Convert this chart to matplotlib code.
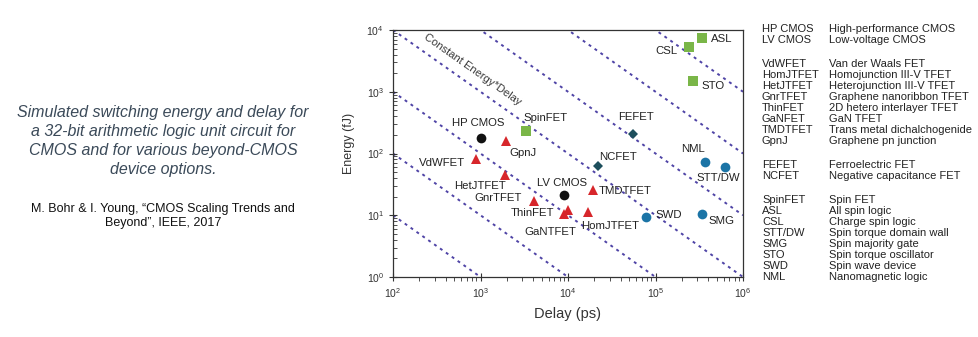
import numpy as np
import matplotlib
matplotlib.use("Agg")
import matplotlib.pyplot as plt
from matplotlib.ticker import LogLocator, NullFormatter

plt.rcParams['font.family'] = ['Liberation Sans', 'DejaVu Sans']

# devices: name, delay (ps), energy (fJ), family
names = ["HP CMOS", "LV CMOS",
         "GpnJ", "VdWFET", "HetJTFET", "GnrTFET", "GaNTFET", "ThinFET", "HomJTFET", "TMDTFET",
         "SpinFET", "CSL", "ASL", "STO",
         "FEFET", "NCFET",
         "NML", "STT/DW", "SWD", "SMG"]
delay = [1000, 8900,
         1970, 880, 1890, 4060, 8900, 10100, 16900, 19300,
         3280, 241000, 343000, 268000,
         55300, 21800,
         368000, 628000, 78500, 343000]
energy = [180, 21,
          160, 80, 45, 17, 10.3, 12, 11.3, 26,
          230, 5300, 7500, 1480,
          210, 62,
          72, 61, 9.2, 10.4]
family = ["cmos"] * 2 + ["tfet"] * 8 + ["spin"] * 4 + ["ferro"] * 2 + ["wave"] * 4

# constant energy*delay lines (fJ*ps)
ed_products = [1e3, 1e4, 1e5, 1e6, 1e7, 1e8, 1e9]

# glossary on the right
gloss_groups = [
    [("HP CMOS", "High-performance CMOS"), ("LV CMOS", "Low-voltage CMOS")],
    [("VdWFET", "Van der Waals FET"), ("HomJTFET", "Homojunction III-V TFET"),
     ("HetJTFET", "Heterojunction III-V TFET"), ("GnrTFET", "Graphene nanoribbon TFET"),
     ("ThinFET", "2D hetero interlayer TFET"), ("GaNFET", "GaN TFET"),
     ("TMDTFET", "Trans metal dichalchogenide"), ("GpnJ", "Graphene pn junction")],
    [("FEFET", "Ferroelectric FET"), ("NCFET", "Negative capacitance FET")],
    [("SpinFET", "Spin FET"), ("ASL", "All spin logic"), ("CSL", "Charge spin logic"),
     ("STT/DW", "Spin torque domain wall"), ("SMG", "Spin majority gate"),
     ("STO", "Spin torque oscillator"), ("SWD", "Spin wave device"),
     ("NML", "Nanomagnetic logic")],
]

styles = {
    "cmos": dict(marker="o", color="#111111", ms=7),
    "tfet": dict(marker="^", color="#d7262b", ms=7),
    "spin": dict(marker="s", color="#7ab648", ms=7),
    "ferro": dict(marker="D", color="#1d4f5c", ms=5.5),
    "wave": dict(marker="o", color="#1b74a6", ms=7),
}

# label offsets in pixels from the marker
label_offsets = {
    "HP CMOS": (-2, 15), "LV CMOS": (-2, 12), "GpnJ": (17, -12), "VdWFET": (-34, -4),
    "HetJTFET": (-25, -11), "GnrTFET": (-36, 3), "GaNTFET": (-13, -18), "ThinFET": (-36, -3),
    "HomJTFET": (22, -14), "TMDTFET": (32, -1), "SpinFET": (20, 13), "CSL": (-22, -4),
    "ASL": (19, -1), "STO": (20, -5), "FEFET": (3, 17), "NCFET": (20, 9),
    "NML": (-12, 13), "STT/DW": (-7, -11), "SWD": (22, 2), "SMG": (19, -7),
}

fig = plt.figure(figsize=(9.79, 3.37), dpi=100)
ax = fig.add_axes([393 / 979, 1 - 277 / 337, 350 / 979, 247 / 337])
ax.set_xscale("log")
ax.set_yscale("log")
ax.set_xlim(1e2, 1e6)
ax.set_ylim(1e0, 1e4)

xs = np.logspace(2, 6, 50)
for p in ed_products:
    ax.plot(xs, p / xs, color="#4f44a6", lw=1.4, ls=(0, (1.5, 2.2)), zorder=1)

for n, d, e, f in zip(names, delay, energy, family):
    st = styles[f]
    ax.plot(d, e, ls="none", marker=st["marker"], color=st["color"],
            markersize=st["ms"], markeredgewidth=0, zorder=3)
    dx, dy = label_offsets[n]
    ax.annotate(n, (d, e), xytext=(dx, dy), textcoords="offset pixels",
                ha="center", va="center", fontsize=8.2, color="#222222", zorder=4)

# text along the 1e6 line
p1 = ax.transData.transform((1e2, 1e4))
p2 = ax.transData.transform((1e6, 1e0))
ang = np.degrees(np.arctan2(p2[1] - p1[1], p2[0] - p1[0]))
ax.text(800, 2300, "Constant Energy*Delay", rotation=ang, rotation_mode="anchor",
        ha="center", va="center", fontsize=8, color="#3a3a3a")

ax.xaxis.set_major_locator(LogLocator(base=10, numticks=10))
ax.yaxis.set_major_locator(LogLocator(base=10, numticks=10))
ax.xaxis.set_minor_locator(LogLocator(base=10, subs=np.arange(2, 10), numticks=10))
ax.yaxis.set_minor_locator(LogLocator(base=10, subs=np.arange(2, 10), numticks=10))
ax.xaxis.set_minor_formatter(NullFormatter())
ax.yaxis.set_minor_formatter(NullFormatter())
ax.tick_params(axis="both", which="major", direction="inout", length=6, width=0.8,
               labelsize=7.5, colors="#333333")
ax.tick_params(axis="x", which="minor", direction="out", length=3, width=0.6, colors="#333333")
ax.tick_params(axis="y", which="minor", direction="in", length=3, width=0.6, colors="#333333")
for s in ax.spines.values():
    s.set_color("#333333")
    s.set_linewidth(0.9)

ax.set_xlabel("Delay (ps)", fontsize=10.5, color="#333333")
ax.set_ylabel("Energy (fJ)", fontsize=9, color="#333333")
ax.xaxis.set_label_coords(0.5, -0.12)
ax.yaxis.set_label_coords(-0.108, 0.54)

# glossary
y = 29.5
for gi, group in enumerate(gloss_groups):
    for abbr, desc in group:
        fig.text(762 / 979, 1 - y / 337, abbr, fontsize=8, color="#222222", va="center")
        fig.text(829 / 979, 1 - y / 337, desc, fontsize=8, color="#222222", va="center")
        y += 10.95
    y += 13.0

# caption on the left
caption = ("Simulated switching energy and delay for\n"
           "a 32-bit arithmetic logic unit circuit for\n"
           "CMOS and for various beyond-CMOS\n"
           "device options.")
fig.text(163 / 979, 1 - 141 / 337, caption, fontsize=11.5, style="italic",
         color="#3b4a59", ha="center", va="center", linespacing=1.35)
fig.text(163 / 979, 1 - 216 / 337,
         "M. Bohr & I. Young, \u201cCMOS Scaling Trends and\nBeyond\u201d, IEEE, 2017",
         fontsize=9, color="#111111", ha="center", va="center", linespacing=1.2)

fig.savefig("out.png", dpi=100)
